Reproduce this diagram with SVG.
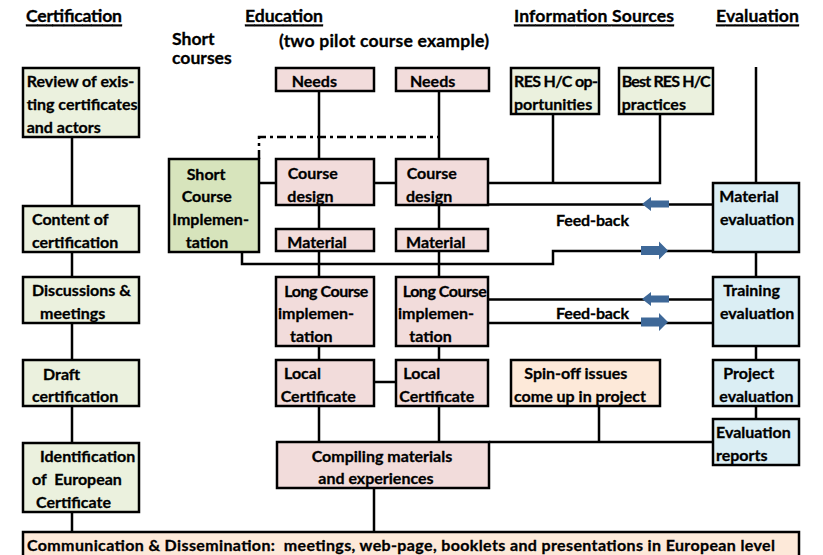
<svg xmlns="http://www.w3.org/2000/svg" width="823" height="555" viewBox="0 0 823 555">
<defs>
<style>
text{font-family:Lato,"Open Sans",sans-serif;font-weight:bold;font-size:16px;fill:#000;stroke:#000;stroke-width:0.3;dominant-baseline:central}
.h{text-decoration:underline;font-size:17.6px}
.t{font-size:17.6px}
.b{stroke:#000;stroke-width:2.5}
.g{fill:#ebf1de}.dg{fill:#d7e4bc}.p{fill:#f2dcdb}.bl{fill:#dbeef4}.o{fill:#fde9d9}
.c{fill:none;stroke:#000;stroke-width:2.5}
.d{fill:none;stroke:#000;stroke-width:2.5;stroke-dasharray:9 4 3 4}
.ar{fill:#3e6898}
</style>
<path id="ra" d="M0,-4.5 H18 V-9 L27,0 L18,9 V4.5 H0 Z"/>
<path id="la" d="M0,0 L9,-7 V-3.5 H27 V3.5 H9 V7 Z"/>
</defs>
<g id="headers">
<text class="h" x="26" y="15" textLength="96">Certification</text>
<text class="h" x="245" y="15" textLength="78">Education</text>
<text class="h" x="514" y="15" textLength="160">Information Sources</text>
<text class="h" x="716" y="15" textLength="83">Evaluation</text>
<text class="t" x="172" y="38">Short</text>
<text class="t" x="172" y="57">courses</text>
<text class="t" x="279" y="40" textLength="210">(two pilot course example)</text>
</g>
<g id="connectors">
<path class="c" d="M72,137V206M72,252V277M72,323V360M72,406V443M72,512V532"/>
<path class="c" d="M319,91V159M439,91V159M319,205V229M439,205V229M319,251V277M439,251V277M319,346V360M439,346V360M319,406V442M439,406V442M374,382H396"/>
<path class="c" d="M259,183H276M374,183H396M488,183H660V114M553,114V183"/>
<path class="c" d="M488,204.5H713M242,252V264H553V251H713M488,299.5H713M488,323H713"/>
<path class="c" d="M756,67V183M756,252V277M756,346V360M756,406V419"/>
<path class="c" d="M599,406V442M489,442H713M374,488V532"/>
<path class="d" d="M259,159V137H439"/>
<use class="ar" href="#la" x="642" y="204"/>
<use class="ar" href="#ra" x="641" y="250.5"/>
<use class="ar" href="#la" x="642" y="299"/>
<use class="ar" href="#ra" x="641" y="322"/>
<text x="556" y="219" textLength="73">Feed-back</text>
<text x="556" y="312.7" textLength="73">Feed-back</text>
</g>
<g id="review"><rect class="b g" x="23" y="68" width="116" height="69"/>
<text x="26.7" y="80">Review of exis-</text><text x="26.7" y="103">ting certificates</text><text x="26.7" y="126">and actors</text></g>
<g id="content"><rect class="b g" x="23" y="206" width="116" height="46"/>
<text x="32" y="218.3">Content of</text><text x="32" y="241.7">certification</text></g>
<g id="discussions"><rect class="b g" x="23" y="277" width="116" height="46"/>
<text x="32" y="289.3">Discussions &amp;</text><text x="40" y="312.7">meetings</text></g>
<g id="draft"><rect class="b g" x="23" y="360" width="116" height="46"/>
<text x="43" y="373">Draft</text><text x="32" y="395.7">certification</text></g>
<g id="identification"><rect class="b g" x="23" y="443" width="116" height="69"/>
<text x="40" y="455">Identification</text><text x="32" y="478.3" xml:space="preserve">of  European</text><text x="36" y="501">Certificate</text></g>
<g id="short-course"><rect class="b dg" x="169" y="159" width="90" height="93"/>
<text x="186.7" y="173">Short</text><text x="181.7" y="195.7">Course</text><text x="172.3" y="218.3">Implemen-</text><text x="185.7" y="241.7">tation</text></g>
<g id="needs1"><rect class="b p" x="276" y="68" width="98" height="23"/><text x="291.7" y="80">Needs</text></g>
<g id="needs2"><rect class="b p" x="396" y="68" width="93" height="23"/><text x="410" y="80">Needs</text></g>
<g id="design1"><rect class="b p" x="276" y="159" width="98" height="46"/>
<text x="287.7" y="172.7">Course</text><text x="287.3" y="195.7">design</text></g>
<g id="design2"><rect class="b p" x="396" y="159" width="92" height="46"/>
<text x="406.7" y="172.7">Course</text><text x="406" y="195.7">design</text></g>
<g id="material1"><rect class="b p" x="276" y="229" width="98" height="22"/><text x="287.3" y="241">Material</text></g>
<g id="material2"><rect class="b p" x="396" y="229" width="92" height="22"/><text x="406" y="241">Material</text></g>
<g id="long1"><rect class="b p" x="276" y="277" width="98" height="69"/>
<text x="284.3" y="290" textLength="84">Long Course</text><text x="278" y="312.7">implemen-</text><text x="290" y="335">tation</text></g>
<g id="long2"><rect class="b p" x="396" y="277" width="92" height="69"/>
<text x="402.7" y="290" textLength="84">Long Course</text><text x="398" y="312.7">implemen-</text><text x="409.3" y="335">tation</text></g>
<g id="local1"><rect class="b p" x="276" y="360" width="98" height="46"/>
<text x="284" y="372.7">Local</text><text x="280.7" y="395">Certificate</text></g>
<g id="local2"><rect class="b p" x="396" y="360" width="92" height="46"/>
<text x="403.3" y="372.7">Local</text><text x="399.3" y="395">Certificate</text></g>
<g id="compiling"><rect class="b p" x="277" y="442" width="212" height="46"/>
<text x="311.7" y="455">Compiling materials</text><text x="318.3" y="477.3">and experiences</text></g>
<g id="res-opportunities"><rect class="b g" x="511" y="68" width="88" height="46"/>
<text x="514" y="80" textLength="84">RES H/C op-</text><text x="514" y="103.3">portunities</text></g>
<g id="best-practices"><rect class="b g" x="619" y="68" width="94" height="46"/>
<text x="621.7" y="80" textLength="89">Best RES H/C</text><text x="621.7" y="103.3">practices</text></g>
<g id="spin-off"><rect class="b o" x="511" y="360" width="149" height="46"/>
<text x="524.3" y="372.7">Spin-off issues</text><text x="514" y="395">come up in project</text></g>
<g id="material-eval"><rect class="b bl" x="713" y="183" width="86" height="69"/>
<text x="719.3" y="195.7">Material</text><text x="720" y="218.3">evaluation</text></g>
<g id="training-eval"><rect class="b bl" x="713" y="277" width="86" height="69"/>
<text x="723.3" y="289.3">Training</text><text x="720" y="312.7">evaluation</text></g>
<g id="project-eval"><rect class="b bl" x="713" y="360" width="86" height="46"/>
<text x="723.3" y="372.7">Project</text><text x="719.3" y="395">evaluation</text></g>
<g id="eval-reports"><rect class="b bl" x="713" y="419" width="86" height="46"/>
<text x="716" y="431.7">Evaluation</text><text x="716" y="454.3">reports</text></g>
<g id="communication"><rect class="b o" x="23" y="532" width="776" height="25"/>
<text x="27" y="544" textLength="748" xml:space="preserve">Communication &amp; Dissemination:  meetings, web-page, booklets and presentations in European level</text></g>
</svg>
